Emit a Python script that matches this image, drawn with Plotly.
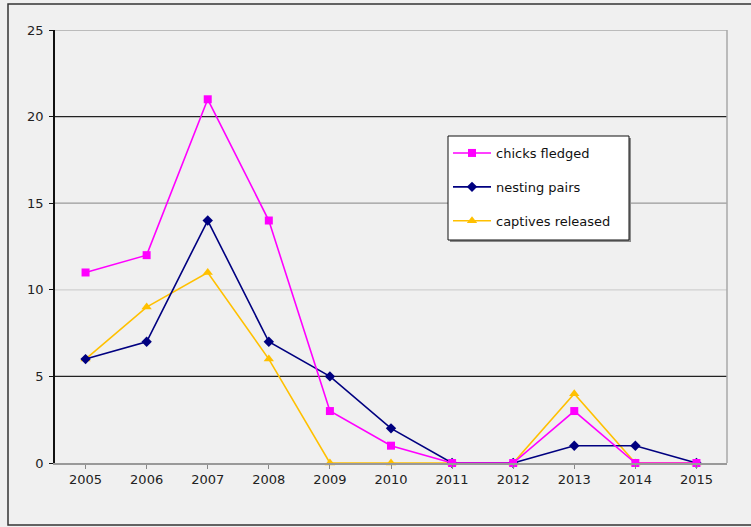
import plotly.graph_objects as go

years = ["2005", "2006", "2007", "2008", "2009", "2010", "2011", "2012", "2013", "2014", "2015"]
chicks_fledged = [11, 12, 21, 14, 3, 1, 0, 0, 3, 0, 0]
nesting_pairs = [6, 7, 14, 7, 5, 2, 0, 0, 1, 1, 0]
captives_released = [6, 9, 11, 6, 0, 0, 0, 0, 4, 0, 0]

y_ticks = [0, 5, 10, 15, 20, 25]
grid_colors = {5: "#222222", 10: "#d0d0d0", 15: "#9a9a9a", 20: "#222222", 25: "#aaaaaa"}

BG = "#f0f0f0"
FONT = "DejaVu Sans, Verdana, sans-serif"

# pixel geometry of the plot area inside the 751x527 canvas
PL, PR, PT, PB = 55, 727, 30, 463
PW, PH = PR - PL, PB - PT


def px(x):
    return (x - PL) / PW


def py(y):
    return (PB - y) / PH


fig = go.Figure()

series = [
    ("chicks fledged", chicks_fledged, "#ff00ff", "square", 8),
    ("nesting pairs", nesting_pairs, "#000080", "diamond", 8),
    ("captives released", captives_released, "#ffc000", "triangle-up", 9),
]
# draw captives first so magenta / navy sit on top, legend order kept by legendrank
for i in [2, 1, 0]:
    name, vals, color, sym, size = series[i]
    fig.add_trace(go.Scatter(
        x=years, y=vals, name=name, mode="lines+markers",
        line=dict(color=color, width=1.6),
        marker=dict(symbol=sym, size=size, color=color),
        legendgroup=name, legendrank=i + 1, cliponaxis=False,
    ))

shapes = []
# horizontal grid lines with individual shades
for t in y_ticks[1:]:
    shapes.append(dict(type="line", xref="paper", yref="y", x0=0, x1=1, y0=t, y1=t,
                       line=dict(color=grid_colors[t], width=1.3), layer="below"))
# right edge of the plot area
shapes.append(dict(type="line", xref="paper", yref="paper", x0=1, x1=1, y0=0, y1=1,
                   line=dict(color="#a8a8a8", width=1.5), layer="below"))
# outer chart frame (left, top and bottom edges)
shapes.append(dict(type="rect", xref="paper", yref="paper",
                   x0=px(8), x1=px(760), y0=py(525), y1=py(4),
                   line=dict(color="#333333", width=1.5), layer="below"))
# legend box: drop shadow, then white panel with dark border
shapes.append(dict(type="rect", xref="paper", yref="paper",
                   x0=px(450), x1=px(631), y0=py(242), y1=py(138),
                   line=dict(width=0), fillcolor="#8a8a8a", layer="above"))
shapes.append(dict(type="rect", xref="paper", yref="paper",
                   x0=px(448), x1=px(629), y0=py(240), y1=py(136),
                   line=dict(color="#111111", width=1), fillcolor="#ffffff", layer="above"))

fig.update_layout(
    width=751, height=527,
    margin=dict(l=PL, r=751 - PR, t=PT, b=527 - PB),
    paper_bgcolor=BG, plot_bgcolor=BG,
    font=dict(family=FONT, size=13, color="#222222"),
    showlegend=True,
    legend=dict(
        x=px(448), y=py(138), xanchor="left", yanchor="top",
        bgcolor="rgba(0,0,0,0)", borderwidth=0,
        traceorder="grouped", tracegroupgap=14,
        font=dict(family=FONT, size=13, color="#111111"),
        itemwidth=38,
    ),
    xaxis=dict(
        type="category", range=[-0.5, 10.5], showgrid=False,
        showline=True, linecolor="#999999", linewidth=1.5,
        ticks="outside", ticklen=4, tickcolor="#888888",
        tickfont=dict(size=13), zeroline=False,
    ),
    yaxis=dict(
        range=[0, 25], tickvals=y_ticks, showgrid=False, zeroline=False,
        showline=True, linecolor="#111111", linewidth=1.5,
        ticks="outside", ticklen=4, tickcolor="#111111",
        tickfont=dict(size=13), ticklabelstandoff=3,
    ),
    shapes=shapes,
)

fig.write_html("out.html")
